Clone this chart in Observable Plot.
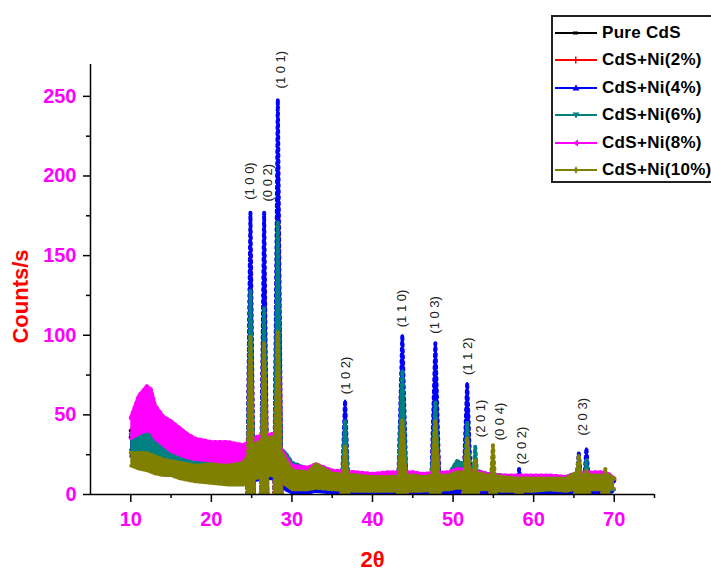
<!DOCTYPE html>
<html><head><meta charset="utf-8">
<script src="https://cdn.jsdelivr.net/npm/d3@7"></script>
<script src="https://cdn.jsdelivr.net/npm/@observablehq/plot@0.6"></script>
<style>
html,body{margin:0;padding:0;background:#fff;overflow:hidden;}
#wrap{position:relative;width:711px;height:574px;overflow:hidden;}
#legend{position:absolute;left:551px;top:15px;width:200px;height:168px;border:2px solid #222;background:#fff;box-sizing:border-box;}
.row{position:absolute;left:2px;height:20px;display:flex;align-items:center;font:bold 17px "Liberation Sans",Arial,sans-serif;color:#000;white-space:nowrap;}
.row svg{margin-right:5px;}
</style></head><body><div id="wrap"></div>
<script>
// ---- series meta ----
const seriesNames = ["Pure CdS", "CdS+Ni(2%)", "CdS+Ni(4%)", "CdS+Ni(6%)", "CdS+Ni(8%)", "CdS+Ni(10%)"];
const seriesColors = ["#000000", "#ff0000", "#0000ff", "#008080", "#ff00ff", "#808000"];

// ---- background noise band (2θ grid, lower / upper envelope in counts/s) ----
const bgX = [10, 11, 12, 12.5, 13, 14, 15, 16, 17, 18, 20, 22, 24, 25.5, 27.5, 29.2, 30, 32, 33, 35, 38, 40, 42, 45, 46, 49.5, 50.5, 53.5, 54.2, 56, 58, 60, 62, 64, 65, 67.5, 68.5, 69.3, 70];
const pureLo = [28, 30, 31, 29, 26, 21, 18, 16, 15, 14, 12, 11, 11, 13, 14, 7, 5, 4, 5, 4, 4, 3, 4, 3, 3, 4, 4, 4, 4, 3, 3, 3, 3, 3, 4, 3, 4, 3, 3];
const pureHi = [40, 46, 52, 47, 40, 33, 29, 26, 24, 23, 22, 21, 23, 33, 35, 22, 16, 15, 18, 13, 13, 12, 12, 12, 12, 12, 14, 13, 12, 11, 11, 11, 11, 11, 12, 12, 12, 11, 9];
const ni2Lo = [26, 27, 27, 26, 24, 20, 17, 15, 14, 13, 11, 10, 10, 12, 13, 6, 4, 4, 5, 3, 3, 3, 3, 3, 3, 3, 4, 3, 3, 3, 3, 3, 3, 3, 3, 3, 3, 3, 3];
const ni2Hi = [36, 40, 42, 40, 36, 31, 27, 25, 23, 22, 21, 20, 22, 32, 34, 22, 16, 15, 17, 13, 12, 12, 12, 12, 12, 12, 14, 12, 12, 11, 11, 11, 11, 10, 12, 12, 12, 11, 9];
const ni4Lo = [24, 23, 22, 22, 20, 16, 14, 12, 11, 10, 8, 7, 7, 9, 10, 3, 1, 1, 2, 1, 1, 1, 1, 0.5, 0.5, 1, 1, 1, 1, 0.5, 1, 0.5, 1, 0.5, 1, 1, 1, 1, 2];
const ni4Hi = [36, 34, 34, 33, 30, 27, 24, 22, 20, 19, 18, 17, 20, 30, 32, 18, 12, 12, 15, 11, 10, 10, 10, 9, 9, 10, 12, 11, 10, 9, 10, 9, 9, 9, 11, 10, 10, 10, 8];
const ni6Lo = [26, 27, 28, 27, 25, 21, 18, 16, 15, 14, 13, 12, 11, 14, 14, 8, 5, 5, 6, 4, 4, 3, 4, 3, 3, 4, 5, 4, 4, 3, 3, 3, 3, 3, 4, 3, 4, 3, 3];
const ni6Hi = [38, 42, 45, 43, 38, 33, 28, 25, 24, 23, 24, 30, 24, 32, 34, 26, 20, 16, 18, 14, 13, 12, 13, 13, 12, 13, 21, 14, 13, 12, 11, 11, 11, 11, 12, 13, 13, 12, 10];
const ni8Lo = [35, 38, 40, 39, 35, 31, 27, 25, 23, 22, 21, 19, 17, 20, 20, 12, 8, 6, 7, 5, 5, 4, 5, 4, 4, 5, 6, 5, 5, 4, 4, 4, 4, 4, 5, 4, 5, 4, 4];
const ni8Hi = [48, 62, 68, 66, 56, 49, 46, 42, 38, 35, 33, 33, 31, 36, 38, 24, 18, 17, 19, 15, 14, 13, 14, 14, 13, 14, 16, 14, 13, 12, 12, 12, 12, 11, 13, 14, 14, 13, 10];
const ni10Lo = [18, 16, 15, 14, 13, 12, 12, 10, 9, 8, 7, 6, 6, 10, 12, 6, 3, 3, 4, 3, 2, 2, 2, 2, 2, 3, 4, 3, 3, 2, 2, 2, 3, 2, 3, 3, 3, 3, 4];
const ni10Hi = [26, 26, 26, 25, 24, 22, 21, 20, 19, 18, 19, 18, 20, 32, 36, 22, 15, 14, 19, 13, 12, 11, 11, 12, 11, 12, 14, 13, 12, 11, 10, 10, 10, 10, 13, 12, 12, 12, 10];

// ---- diffraction peaks: position (2θ), base half-width (2θ), peak tops (counts/s) ----
const peakPos = [24.85, 26.55, 28.25, 36.6, 43.7, 47.8, 51.75, 52.75, 54.95, 58.2, 65.6, 66.55, 68.9];
const peakHW  = [0.4, 0.4, 0.45, 0.45, 0.55, 0.55, 0.5, 0.4, 0.35, 0.35, 0.45, 0.4, 0.4];
const pureTop = [71, 63, 53, 25, 40, 38, 30, 15, 12, 8, 15, 15, 11];
const ni2Top  = [151, 142, 200, 40, 58, 70, 59, 18, 14, 10, 18, 20, 12];
const ni4Top  = [177, 177, 248, 59, 100, 95, 70, 22, 18, 16, 26, 29, 14];
const ni6Top  = [128, 117, 171, 46, 78, 58, 45, 30, 15, 8, 20, 22, 14];
const ni8Top  = [84, 80, 86, 24, 36, 36, 30, 18, 12, 9, 15, 15, 13];
const ni10Top = [99, 95, 102, 30, 47, 46, 35, 22, 31, 10, 25, 15, 16];

// ---- peak (hkl) annotations ----
const hklText = ["(1 0 0)", "(0 0 2)", "(1 0 1)", "(1 0 2)", "(1 1 0)", "(1 0 3)", "(1 1 2)", "(2 0 1)", "(0 0 4)", "(2 0 2)", "(2 0 3)"];
const hklX    = [24.8, 27.05, 28.6, 36.75, 43.6, 47.7, 51.8, 53.5, 55.8, 58.55, 66.1];
const hklY    = [185, 184, 255, 63, 105, 101, 75, 36, 34, 19, 37];

// ---- axes ----
const xMajor = [10, 20, 30, 40, 50, 60, 70];
const xMinor = [15, 25, 35, 45, 55, 65, 75];
const yMajor = [0, 50, 100, 150, 200, 250];
const yMinor = [25, 75, 125, 175, 225];

const series = [
  {lo: pureLo, hi: pureHi, top: pureTop},
  {lo: ni2Lo, hi: ni2Hi, top: ni2Top},
  {lo: ni4Lo, hi: ni4Hi, top: ni4Top},
  {lo: ni6Lo, hi: ni6Hi, top: ni6Top},
  {lo: ni8Lo, hi: ni8Hi, top: ni8Top},
  {lo: ni10Lo, hi: ni10Hi, top: ni10Top}
].map((s, i) => ({...s, name: seriesNames[i], color: seriesColors[i]}));

const FONT = "Liberation Sans, Arial, sans-serif";
const marks = [];
series.forEach(s => {
  const band = bgX.map((x, i) => ({x, lo: s.lo[i], hi: s.hi[i]}));
  marks.push(Plot.areaY(band, {x: "x", y1: "lo", y2: "hi", fill: s.color, clip: true}));
  // marker-like speckled edges of the noise band
  marks.push(Plot.line(band, {x: "x", y: "hi", stroke: s.color, strokeWidth: 4, strokeDasharray: "2 3", clip: true}));
  marks.push(Plot.line(band, {x: "x", y: "lo", stroke: s.color, strokeWidth: 3, strokeDasharray: "3 2", clip: true}));
  const tri = [];
  peakPos.forEach((p, i) => {
    tri.push({x: p - peakHW[i], b: 0, y: 0, k: i}, {x: p, b: 0, y: s.top[i], k: i}, {x: p + peakHW[i], b: 0, y: 0, k: i});
  });
  marks.push(Plot.areaY(tri, {x: "x", y1: "b", y2: "y", z: "k", fill: s.color, clip: true}));
  marks.push(Plot.line(tri, {x: "x", y: "y", z: "k", stroke: s.color, strokeWidth: 2, clip: true}));
  marks.push(Plot.line(tri, {x: "x", y: "y", z: "k", stroke: s.color, strokeWidth: 4, strokeDasharray: "2 4", clip: true}));
});

marks.push(
  Plot.ruleY([0], {stroke: "#000", strokeWidth: 1.5}),
  Plot.ruleX([5], {stroke: "#000", strokeWidth: 1.5}),
  Plot.axisX({ticks: xMajor, tickSize: 8, tickPadding: 9, stroke: "#000", strokeWidth: 1.5, fill: "#ff00ff", fontSize: 20, fontWeight: "bold", fontFamily: FONT, label: null, tickFormat: d => d}),
  Plot.axisX({ticks: xMinor, tickSize: 4, stroke: "#000", strokeWidth: 1.5, label: null, tickFormat: () => ""}),
  Plot.axisY({ticks: yMajor, tickSize: 7, tickPadding: 7, stroke: "#000", strokeWidth: 1.5, fill: "#ff00ff", fontSize: 20, fontWeight: "bold", fontFamily: FONT, label: null, tickFormat: d => d}),
  Plot.axisY({ticks: yMinor, tickSize: 4, stroke: "#000", strokeWidth: 1.5, label: null, tickFormat: () => ""}),
  Plot.text(hklText.map((t, i) => ({t, x: hklX[i], y: hklY[i]})), {x: "x", y: "y", text: "t", rotate: -90, textAnchor: "start", lineAnchor: "middle", fontSize: 13, fill: "#222", fontFamily: FONT, ariaLabel: "hkl"}),
  Plot.text(["2θ"], {frameAnchor: "bottom", dy: 65, textAnchor: "middle", lineAnchor: "middle", fill: "#ff0000", fontSize: 22, fontWeight: "bold", fontFamily: FONT}),
  Plot.text(["Counts/s"], {frameAnchor: "left", dx: -70, dy: 17, rotate: -90, textAnchor: "middle", lineAnchor: "middle", fill: "#ff0000", fontSize: 22, fontWeight: "bold", fontFamily: FONT, ariaLabel: "ylabel"})
);

const chart = Plot.plot({
  width: 711, height: 574,
  marginLeft: 90, marginRight: 57, marginTop: 64, marginBottom: 80,
  style: {fontFamily: FONT, background: "#fff"},
  x: {domain: [5, 75], label: null},
  y: {domain: [0, 270], label: null},
  marks
});
d3.select(chart).selectAll('g[aria-label="hkl"] text').style("letter-spacing", "2px");
d3.select(chart).selectAll('g[aria-label="ylabel"] text').style("letter-spacing", "1.5px");
const wrap = document.getElementById("wrap");
wrap.appendChild(chart);

// ---- legend ----
const legend = document.createElement("div");
legend.id = "legend";
const markerFns = [
  (g, c) => g.append("rect").attr("x", 18).attr("y", 4.5).attr("width", 5).attr("height", 3).attr("fill", c),
  (g, c) => g.append("rect").attr("x", 20).attr("y", 2.5).attr("width", 1.5).attr("height", 7).attr("fill", c),
  (g, c) => g.append("path").attr("d", "M21,2.5L24.5,8.5L17.5,8.5Z").attr("fill", c),
  (g, c) => g.append("path").attr("d", "M17.5,3.5L24.5,3.5L21,9.5Z").attr("fill", c),
  (g, c) => g.append("path").attr("d", "M18,6L23,2.5L23,9.5Z").attr("fill", c),
  (g, c) => g.append("path").attr("d", "M21,2L23,6L21,10L19,6Z").attr("fill", c)
];
seriesNames.forEach((name, i) => {
  const row = document.createElement("div");
  row.className = "row";
  row.style.top = (5.5 + i * 27.5) + "px";
  const svg = d3.create("svg").attr("width", 42).attr("height", 12);
  svg.append("line").attr("x1", 0).attr("x2", 42).attr("y1", 6).attr("y2", 6).attr("stroke", seriesColors[i]).attr("stroke-width", 1.8);
  markerFns[i](svg, seriesColors[i]);
  row.appendChild(svg.node());
  const span = document.createElement("span");
  span.textContent = name;
  span.style.letterSpacing = "0.3px";
  row.appendChild(span);
  legend.appendChild(row);
});
wrap.appendChild(legend);
</script>
</body></html>
